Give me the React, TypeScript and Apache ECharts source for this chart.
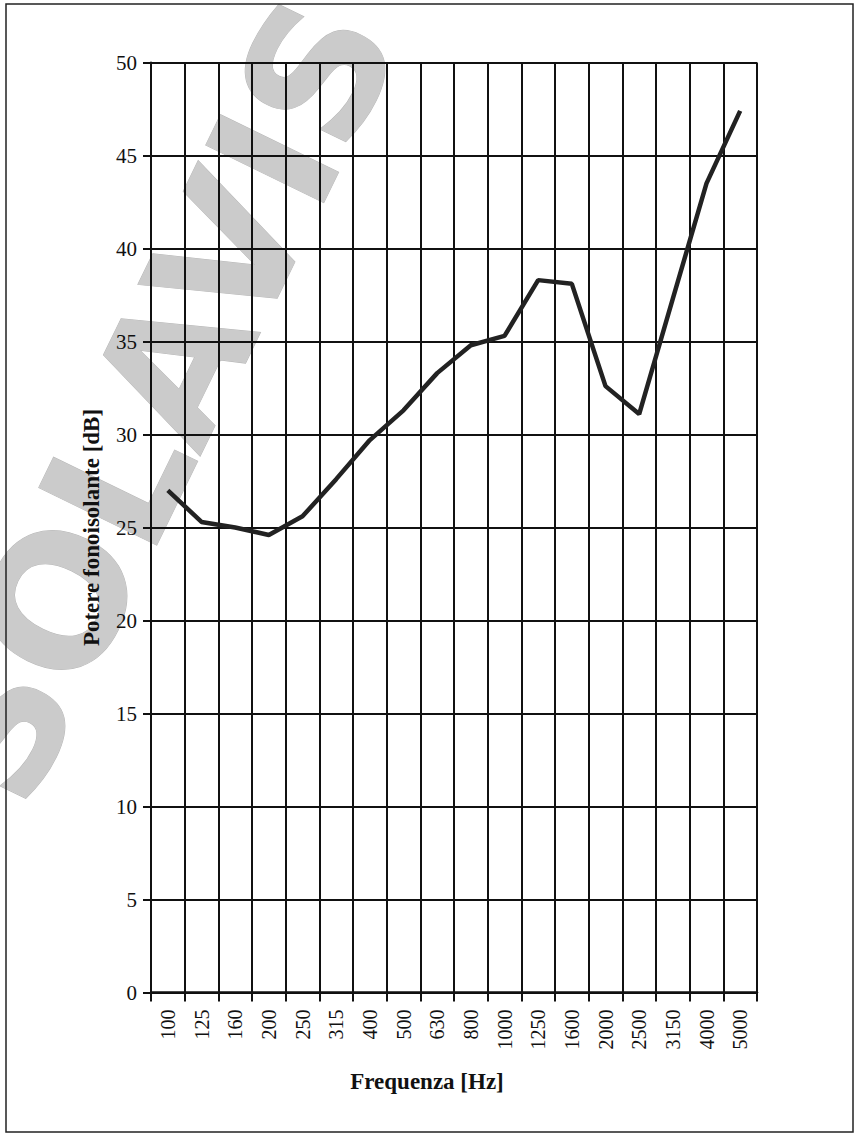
import React, { useEffect, useRef } from "react";
import * as echarts from "echarts";

const categories = ["100", "125", "160", "200", "250", "315", "400", "500", "630", "800", "1000", "1250", "1600", "2000", "2500", "3150", "4000", "5000"];
const values = [27.0, 25.3, 25.0, 24.6, 25.6, 27.6, 29.7, 31.3, 33.3, 34.8, 35.3, 38.3, 38.1, 32.6, 31.1, 37.3, 43.5, 47.4];
const yMin = 0;
const yMax = 50;
const yInterval = 5;
const xName = "Frequenza [Hz]";
const yName = "Potere fonoisolante [dB]";
const watermark = "SOLAVIS";

export default function App() {
  const ref = useRef<HTMLDivElement>(null);
  useEffect(() => {
    if (!ref.current) return;
    const chart = echarts.init(ref.current, null, { renderer: "svg" });
    const serif = "Liberation Serif";
    chart.setOption({
      animation: false,
      backgroundColor: "#ffffff",
      graphic: [
        {
          type: "text",
          x: 158,
          y: 400,
          rotation: (64 * Math.PI) / 180,
          z: -10,
          silent: true,
          style: {
            text: watermark,
            font: 'bold 180px "DejaVu Sans"',
            fill: "#cbcbcb",
            stroke: "#b8b8b8",
            lineWidth: 1,
            align: "center",
            verticalAlign: "middle",
          },
        },
        {
          type: "rect",
          z: 100,
          silent: true,
          shape: { x: 6, y: 4, width: 847, height: 1128 },
          style: { fill: "none", stroke: "#222", lineWidth: 1.5 },
        },
      ],
      grid: { left: 151, top: 62.5, width: 606, height: 930, containLabel: false, show: false },
      xAxis: {
        type: "category",
        data: categories,
        boundaryGap: true,
        name: xName,
        nameLocation: "middle",
        nameGap: 77,
        nameTextStyle: { fontFamily: serif, fontWeight: "bold", fontSize: 23, color: "#111", padding: [0, 54, 0, 0] },
        axisLine: { show: true, lineStyle: { color: "#111", width: 2.5 } },
        axisTick: { show: true, length: 9, lineStyle: { color: "#111", width: 2 } },
        axisLabel: { rotate: 90, margin: 17, fontFamily: serif, fontSize: 20, color: "#111" },
        splitLine: { show: true, lineStyle: { color: "#111", width: 2 } },
      },
      yAxis: {
        type: "value",
        min: yMin,
        max: yMax,
        interval: yInterval,
        name: yName,
        nameLocation: "middle",
        nameGap: 48,
        nameTextStyle: { fontFamily: serif, fontWeight: "bold", fontSize: 23, color: "#111" },
        axisLine: { show: true, lineStyle: { color: "#111", width: 2 } },
        axisTick: { show: true, length: 8, lineStyle: { color: "#111", width: 2 } },
        axisLabel: { margin: 14, fontFamily: serif, fontSize: 21, color: "#111" },
        splitLine: { show: true, lineStyle: { color: "#111", width: 2 } },
      },
      series: [
        {
          type: "line",
          data: values,
          symbol: "none",
          lineStyle: { color: "#222", width: 4.5 },
          z: 5,
        },
      ],
    });
    return () => chart.dispose();
  }, []);
  return (
    <div
      ref={ref}
      style={{ position: "absolute", left: 0, top: 0, width: 855, height: 1137 }}
    />
  );
}
